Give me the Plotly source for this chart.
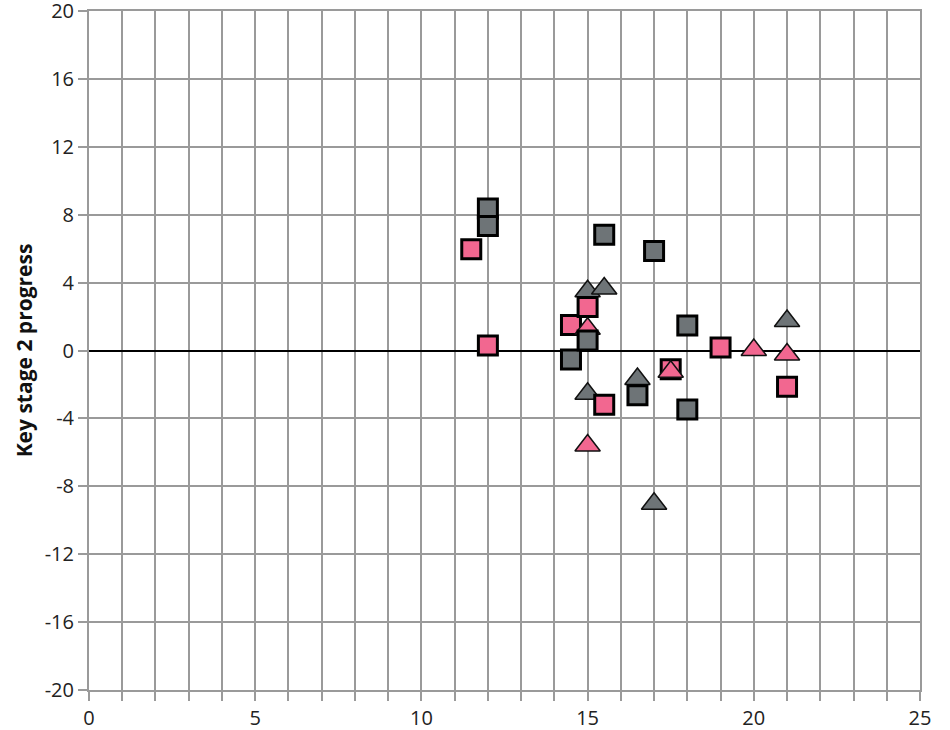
import plotly.graph_objects as go

# Data
gray_sq_x = [12, 12, 15.5, 17, 18, 14.5, 15, 16.5, 18]
gray_sq_y = [8.37, 7.33, 6.82, 5.86, 1.47, -0.53, 0.59, -2.64, -3.48]

pink_sq_x = [11.5, 12, 14.5, 15, 15.5, 17.5, 19, 21]
pink_sq_y = [5.96, 0.3, 1.5, 2.56, -3.19, -1.1, 0.17, -2.13]

gray_tri_x = [15, 15.5, 15, 16.5, 17, 21]
gray_tri_y = [3.49, 3.65, -2.55, -1.68, -9.03, 1.74]

pink_tri_x = [15, 15, 17.5, 20, 21]
pink_tri_y = [1.28, -5.6, -1.25, 0.03, -0.24]

x_tickvals = list(range(0, 26))
x_ticktext = [str(v) if v % 5 == 0 else "" for v in x_tickvals]
y_tickvals = list(range(-20, 21, 4))
y_ticktext = [str(v) for v in y_tickvals]

PINK = "#F26790"
GRAY = "#6E7477"

fig = go.Figure()
fig.add_trace(go.Scatter(x=gray_tri_x, y=gray_tri_y, mode="markers", cliponaxis=False,
                         marker=dict(symbol="triangle-up", size=22, color=GRAY,
                                     line=dict(color="#111111", width=1.5))))
fig.add_trace(go.Scatter(x=pink_sq_x, y=pink_sq_y, mode="markers", cliponaxis=False,
                         marker=dict(symbol="square", size=19, color=PINK,
                                     line=dict(color="#000000", width=3))))
fig.add_trace(go.Scatter(x=pink_tri_x, y=pink_tri_y, mode="markers", cliponaxis=False,
                         marker=dict(symbol="triangle-up", size=22, color=PINK,
                                     line=dict(color="#111111", width=1.5))))
fig.add_trace(go.Scatter(x=gray_sq_x, y=gray_sq_y, mode="markers", cliponaxis=False,
                         marker=dict(symbol="square", size=19, color=GRAY,
                                     line=dict(color="#000000", width=3))))

fig.update_layout(
    width=950, height=730,
    margin=dict(l=89, r=30, t=11, b=40, autoexpand=False),
    paper_bgcolor="white", plot_bgcolor="white",
    showlegend=False,
    font=dict(family="Open Sans", size=20, color="#222222"),
)
fig.update_xaxes(
    range=[0, 25], tickmode="array", tickvals=x_tickvals, ticktext=x_ticktext,
    showgrid=True, gridcolor="#9a9a9a", gridwidth=2,
    showline=True, linecolor="#9a9a9a", linewidth=2, mirror=True,
    ticks="outside", ticklen=9, tickcolor="#9a9a9a", tickwidth=2,
    zeroline=False, tickfont=dict(size=20), automargin=False,
    ticklabeloverflow="allow",
)
fig.update_yaxes(
    range=[-20, 20], tickmode="array", tickvals=y_tickvals, ticktext=y_ticktext,
    showgrid=True, gridcolor="#9a9a9a", gridwidth=2,
    showline=True, linecolor="#9a9a9a", linewidth=2, mirror=True,
    ticks="outside", ticklen=9, tickcolor="#9a9a9a", tickwidth=2,
    zeroline=True, zerolinecolor="#000000", zerolinewidth=2,
    tickfont=dict(size=20), automargin=False,
    ticklabeloverflow="allow",
    title=dict(text="<b>Key stage 2 progress</b>", font=dict(size=21, color="#111111"), standoff=6),
)

fig.write_html("out.html", config={"displayModeBar": False},
               post_script="document.body.style.margin='0';")
